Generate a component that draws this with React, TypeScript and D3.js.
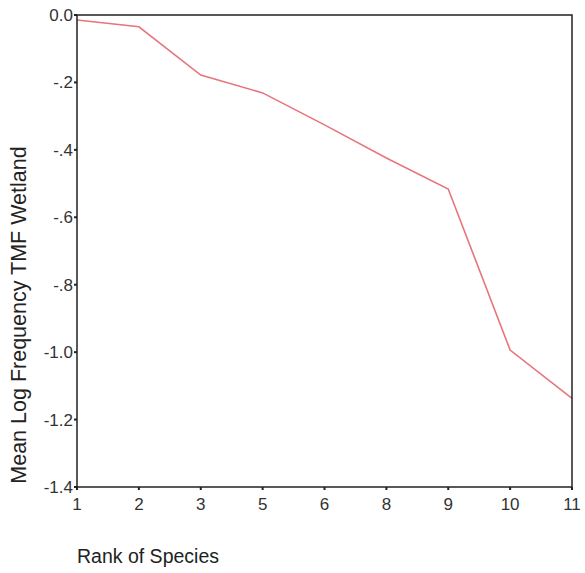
import React from "react";
import * as d3 from "d3";

const ranks = ["1", "2", "3", "5", "6", "8", "9", "10", "11"];
const meanLogFreq = [-0.015, -0.035, -0.178, -0.231, -0.326, -0.424, -0.516, -0.994, -1.137];
const yTicks = [0, -0.2, -0.4, -0.6, -0.8, -1.0, -1.2, -1.4];
const yTickLabels = ["0.0", "-.2", "-.4", "-.6", "-.8", "-1.0", "-1.2", "-1.4"];

const W = 585;
const H = 573;
const left = 77;
const right = 572;
const top = 15;
const bottom = 487;

export default function App() {
  const x = d3.scalePoint<string>().domain(ranks).range([left, right]);
  const y = d3.scaleLinear().domain([-1.4, 0]).range([bottom, top]);
  const line = d3
    .line<number>()
    .x((_, i) => x(ranks[i]) as number)
    .y((d) => y(d));
  const font = "Arial, 'Liberation Sans', Helvetica, sans-serif";
  return (
    <svg
      width={W}
      height={H}
      style={{ position: "absolute", left: 0, top: 0, background: "#fff" }}
      fontFamily={font}
    >
      <rect x={0} y={0} width={W} height={H} fill="#fff" />
      <path d={line(meanLogFreq) || ""} fill="none" stroke="#e8747c" strokeWidth={1.6} />
      <rect x={left} y={top} width={right - left} height={bottom - top} fill="none" stroke="#222" strokeWidth={1.5} />
      {yTicks.map((t, i) => (
        <g key={"y" + i}>
          <line x1={left - 3} x2={left} y1={y(t)} y2={y(t)} stroke="#222" strokeWidth={2} />
          <text x={left - 4} y={y(t)} dy="0.35em" textAnchor="end" fontSize={17} fill="#333">
            {yTickLabels[i]}
          </text>
        </g>
      ))}
      {ranks.map((r) => (
        <g key={"x" + r}>
          <line x1={x(r)} x2={x(r)} y1={bottom} y2={bottom + 3} stroke="#222" strokeWidth={2} />
          <text x={x(r)} y={510} textAnchor="middle" fontSize={17} fill="#333">
            {r}
          </text>
        </g>
      ))}
      <text x={77} y={563} fontSize={19.5} fill="#222">
        Rank of Species
      </text>
      <text
        transform={`translate(26,315) rotate(-90)`}
        textAnchor="middle"
        fontSize={21.5}
        fill="#222"
      >
        Mean Log Frequency TMF Wetland
      </text>
    </svg>
  );
}
